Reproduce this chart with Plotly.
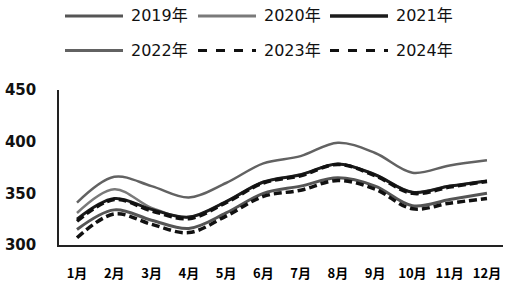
import plotly.graph_objects as go

months = ["1月", "2月", "3月", "4月", "5月", "6月", "7月", "8月", "9月", "10月", "11月", "12月"]
y2019 = [315, 334, 324, 316, 331, 350, 357, 365, 357, 338, 344, 350]
y2020 = [331, 354, 336, 327, 342, 361, 368, 378.5, 368, 351, 357, 362]
y2021 = [325, 345, 334.5, 327, 342, 361, 368, 378.5, 368, 351, 357, 362]
y2022 = [341, 366, 357, 346, 360, 379, 386, 399, 389, 370, 377, 382]
y2023 = [323, 344, 333, 325.5, 341, 360, 367, 378, 367, 350, 356, 361.5]
y2024 = [307, 330, 320, 312, 328, 347, 353, 362.5, 354, 335, 340.5, 345]

names = ["2019年", "2020年", "2021年", "2022年", "2023年", "2024年"]
values = [y2019, y2020, y2021, y2022, y2023, y2024]
colors = ["#555555", "#7a7a7a", "#1c1c1c", "#626262", "#111111", "#111111"]
widths = [3, 2.5, 3, 2.5, 3.5, 3.5]
dashes = ["solid", "solid", "solid", "solid", "8px,4px", "8px,4px"]
order = [0, 3, 1, 2, 4, 5]  # drawing order

fig = go.Figure()
for i in order:
    fig.add_trace(go.Scatter(
        x=months, y=values[i], name=names[i], mode="lines",
        line=dict(color=colors[i], width=widths[i], dash=dashes[i],
                  shape="spline", smoothing=1.0),
        showlegend=False,
    ))

# manual legend (2 rows x 3 columns)
L, R, T, B = 59, 5, 90, 52
W, H = 508, 297
pw, ph = W - L - R, H - T - B
def px_x(p):
    return (p - L) / pw
def px_y(p):
    return (H - B - p) / ph

shapes = []
annotations = []
col_x = [65, 198, 330]
row_y = [16, 50.5]
for k, nm in enumerate(names):
    r, c = divmod(k, 3)
    x0 = col_x[c]
    x1 = x0 + 58
    yy = row_y[r]
    shapes.append(dict(type="line", xref="paper", yref="paper",
                       x0=px_x(x0), x1=px_x(x1), y0=px_y(yy), y1=px_y(yy),
                       line=dict(color=colors[k], width=3 if k != 2 else 3.5,
                                 dash="dash" if dashes[k] != "solid" else "solid")))
    annotations.append(dict(xref="paper", yref="paper", x=px_x(x1 + 6), y=px_y(yy),
                            text=nm, showarrow=False, xanchor="left", yanchor="middle",
                            font=dict(size=16, color="#111111",
                                      family="DejaVu Sans, Noto Sans CJK SC")))

fig.update_layout(
    width=W, height=H,
    margin=dict(l=L, r=R, t=T, b=B),
    paper_bgcolor="white", plot_bgcolor="white",
    shapes=shapes, annotations=annotations,
    showlegend=False,
)
fig.update_xaxes(
    type="category", range=[-0.483, 11.43],
    showline=True, linecolor="#222222", linewidth=1.5,
    showgrid=False, zeroline=False, ticks="",
    tickfont=dict(size=13, color="#000000", family="Noto Sans CJK SC", weight="bold"),
    ticklabelstandoff=16,
)
fig.update_yaxes(
    range=[300, 450], tickvals=[300, 350, 400, 450],
    showline=True, linecolor="#222222", linewidth=1.5,
    showgrid=False, zeroline=False, ticks="",
    tickfont=dict(size=15, color="#111111", family="DejaVu Sans", weight="bold"),
    ticklabelstandoff=18,
)
fig.write_html("out.html")
